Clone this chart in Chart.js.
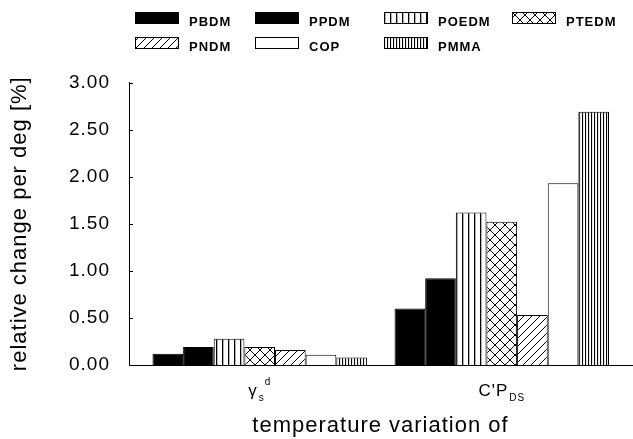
<!DOCTYPE html>
<html>
<head>
<meta charset="utf-8">
<script src="https://cdn.jsdelivr.net/npm/chart.js@4.4.1/dist/chart.umd.min.js"></script>
<style>
  html, body { margin: 0; padding: 0; background: #fff; }
  #wrap { width: 633px; height: 439px; }
</style>
</head>
<body>
<div id="wrap"><canvas id="chart-1"></canvas></div>
<script>
// categories (drawn as main text + subscript + superscript)
const categories = ['γs d', "C'P DS"];
const catMain = ['γ', "C'P"];
const catSub = ['s', 'DS'];
const catSup = ['d', ''];

const seriesNames = ['PBDM', 'PPDM', 'POEDM', 'PTEDM', 'PNDM', 'COP', 'PMMA'];
const pbdm = [0.12, 0.60];
const ppdm = [0.19, 0.92];
const poedm = [0.28, 1.62];
const ptedm = [0.19, 1.52];
const pndm = [0.16, 0.53];
const cop = [0.11, 1.93];
const pmma = [0.08, 2.69];
const yTicks = [0, 0.5, 1, 1.5, 2, 2.5, 3];

const FONT = '"Liberation Sans", Arial, Helvetica, sans-serif';

function makePattern(kind) {
    if (kind === 'solid') return '#000';
    if (kind === 'white') return '#fff';
    const c = document.createElement('canvas');
    const g = c.getContext('2d');
    let s = 8;
    if (kind === 'vlines') s = 6;
    if (kind === 'dense') s = 3;
    if (kind === 'cross') s = 10;
    c.width = s; c.height = s;
    g.fillStyle = '#fff';
    g.fillRect(0, 0, s, s);
    g.fillStyle = '#000';
    g.strokeStyle = '#000';
    g.lineWidth = 1;
    if (kind === 'vlines') {
        g.fillRect(0, 0, 1.3, s);
    } else if (kind === 'dense') {
        g.fillRect(0, 0, 1.1, s);
    } else if (kind === 'diag') {
        g.beginPath();
        g.moveTo(-1, s + 1); g.lineTo(s + 1, -1);
        g.moveTo(-1, 1); g.lineTo(1, -1);
        g.moveTo(s - 1, s + 1); g.lineTo(s + 1, s - 1);
        g.stroke();
    } else if (kind === 'cross') {
        g.beginPath();
        g.moveTo(-1, s + 1); g.lineTo(s + 1, -1);
        g.moveTo(-1, -1); g.lineTo(s + 1, s + 1);
        g.stroke();
    }
    return g.createPattern(c, 'repeat');
}

const fills = [
    makePattern('solid'),
    makePattern('solid'),
    makePattern('vlines'),
    makePattern('cross'),
    makePattern('diag'),
    makePattern('white'),
    makePattern('dense')
];
const seriesValues = [pbdm, ppdm, poedm, ptedm, pndm, cop, pmma];

const legendCols = [135, 255, 384, 512];
const legendRows = [12, 37];

const textSpacing = {
    id: 'textSpacing',
    beforeDraw(chart) {
        chart.ctx.letterSpacing = '1px';
    }
};

const extras = {
    id: 'extras',
    afterDraw(chart) {
        const ctx = chart.ctx;
        const area = chart.chartArea;
        const xs = chart.scales.x;
        const ys = chart.scales.y;
        ctx.save();
        ctx.letterSpacing = '1px';

        // small inward ticks on the y axis
        ctx.strokeStyle = '#000';
        ctx.lineWidth = 1;
        ctx.beginPath();
        yTicks.forEach(v => {
            if (v === 0) return;
            const py = Math.round(ys.getPixelForValue(v)) + 0.5;
            ctx.moveTo(area.left, py);
            ctx.lineTo(area.left + 4, py);
        });
        ctx.stroke();

        // category labels with sub/superscripts
        ctx.fillStyle = '#000';
        ctx.textBaseline = 'alphabetic';
        categories.forEach((c, i) => {
            const cx = xs.getPixelForValue(i);
            const mainFont = '17px ' + FONT;
            const subFont = '10px ' + FONT;
            ctx.font = mainFont;
            const wm = ctx.measureText(catMain[i]).width;
            ctx.font = subFont;
            const ws = ctx.measureText(catSub[i]).width;
            const wu = catSup[i] ? ctx.measureText(catSup[i]).width + 6 : 0;
            const total = wm + 1 + Math.max(ws, wu);
            let x = cx - total / 2;
            ctx.font = mainFont;
            ctx.fillText(catMain[i], x, 396);
            x += wm + 1;
            ctx.font = subFont;
            ctx.fillText(catSub[i], x, 401);
            if (catSup[i]) ctx.fillText(catSup[i], x + 6, 385);
        });

        // legend, 4 columns x 2 rows
        ctx.font = 'bold 13px ' + FONT;
        ctx.textBaseline = 'middle';
        chart.data.datasets.forEach((ds, i) => {
            const x = legendCols[i % 4];
            const y = legendRows[Math.floor(i / 4)];
            ctx.fillStyle = ds.backgroundColor;
            ctx.fillRect(x, y, 44, 12);
            ctx.strokeStyle = '#000';
            ctx.strokeRect(x + 0.5, y + 0.5, 43, 11);
            ctx.fillStyle = '#000';
            ctx.fillText(ds.label, x + 54, y + 10);
        });
        ctx.restore();
    }
};

const chart1 = document.querySelector('#chart-1');

new Chart(chart1, {
    type: 'bar',
    data: {
        datasets: seriesNames.map((name, k) => ({
            label: name,
            data: seriesValues[k].map((v, i) => ({ x: i, y: v })),
            backgroundColor: fills[k],
            borderColor: '#000',
            borderWidth: 1,
            categoryPercentage: 0.886,
            barPercentage: 1.0
        }))
    },
    options: {
        responsive: true,
        maintainAspectRatio: false,
        animation: false,
        layout: { padding: { top: 82.5, left: 7, right: 1, bottom: 0 } },
        plugins: {
            legend: { display: false },
            tooltip: { enabled: false }
        },
        scales: {
            x: {
                type: 'linear',
                offset: false,
                min: -0.54,
                max: 1.538,
                afterBuildTicks: s => { s.ticks = categories.map((c, i) => ({ value: i })); },
                afterFit: s => { s.height = 74; },
                ticks: { display: false },
                grid: { display: false, drawTicks: false, offset: false },
                border: { display: true, color: '#000', width: 1 },
                title: {
                    display: true,
                    text: 'temperature variation of',
                    color: '#000',
                    font: { family: FONT, size: 22 },
                    padding: 0
                }
            },
            y: {
                min: 0,
                max: 3,
                afterBuildTicks: s => { s.ticks = yTicks.map(v => ({ value: v })); },
                afterFit: s => { s.width = 122; },
                ticks: {
                    callback: v => v.toFixed(2),
                    color: '#000',
                    font: { family: FONT, size: 19 },
                    padding: 19
                },
                grid: { display: false, drawTicks: false },
                border: { display: true, color: '#000', width: 1 },
                title: {
                    display: true,
                    text: 'relative change per deg [%]',
                    color: '#000',
                    font: { family: FONT, size: 22 },
                    padding: 0
                }
            }
        }
    },
    plugins: [textSpacing, extras]
});
</script>
</body>
</html>
